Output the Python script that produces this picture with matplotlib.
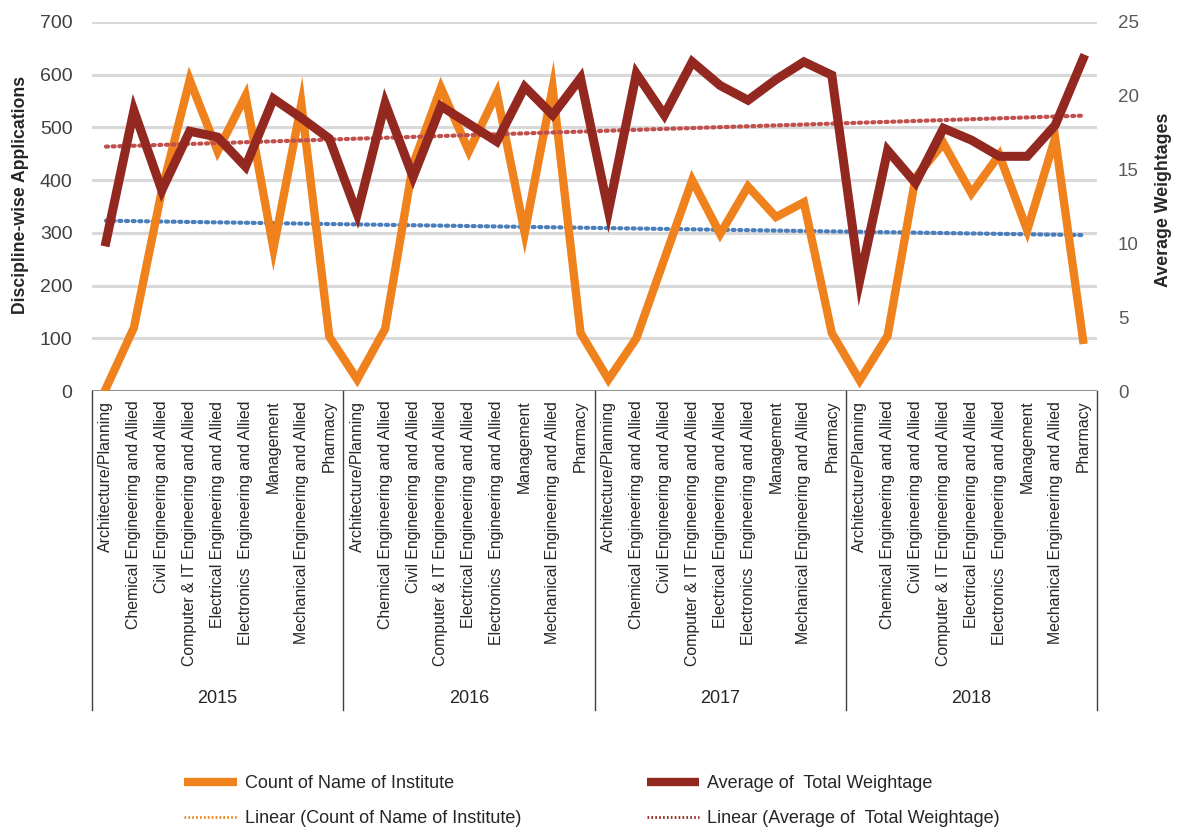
import numpy as np
import matplotlib
matplotlib.use("Agg")
import matplotlib.pyplot as plt
from matplotlib.lines import Line2D
from matplotlib import transforms

plt.rcParams['font.family'] = ['Liberation Sans', 'DejaVu Sans']

years = ['2015', '2016', '2017', '2018']
disciplines = ['Architecture/Planning', 'Chemical Engineering and Allied',
               'Civil Engineering and Allied', 'Computer & IT Engineering and Allied',
               'Electrical Engineering and Allied', 'Electronics  Engineering and Allied',
               'Management', 'Mechanical Engineering and Allied', 'Pharmacy']

# count of institutes (left axis)
count_2015 = [5, 120, 380, 590, 455, 560, 270, 545, 103]
count_2016 = [22, 118, 430, 575, 455, 565, 300, 575, 110]
count_2017 = [22, 100, 250, 400, 298, 388, 330, 358, 110]
count_2018 = [20, 105, 405, 470, 375, 448, 305, 480, 97]

# average total weightage (right axis)
weight_2015 = [10.1, 19.0, 13.6, 17.6, 17.2, 15.2, 19.8, 18.5, 17.1]
weight_2016 = [12.0, 19.5, 14.5, 19.3, 18.1, 16.9, 20.6, 18.7, 21.2]
weight_2017 = [12.2, 21.5, 18.7, 22.3, 20.7, 19.7, 21.1, 22.3, 21.4]
weight_2018 = [7.5, 16.3, 14.1, 17.8, 17.0, 15.9, 15.9, 18.0, 22.5]

counts = np.array(count_2015 + count_2016 + count_2017 + count_2018)
weights = np.array(weight_2015 + weight_2016 + weight_2017 + weight_2018)
labels = disciplines * len(years)
x = np.arange(len(counts))

ORANGE = '#F0821E'
DARKRED = '#922820'
BLUE = '#4A7EBB'
RED = '#C0504D'
GRAY = '#595959'
TEXT = '#262626'

fig = plt.figure(figsize=(11.82, 8.31), dpi=100)
ax = fig.add_axes([92 / 1182, 1 - 391 / 831, (1097 - 92) / 1182, (391 - 22) / 831])
ax2 = ax.twinx()

ax.set_ylim(0, 700)
ax.set_yticks(range(0, 701, 100))
ax2.set_ylim(0, 25)
ax2.set_yticks(range(0, 26, 5))
ax.set_xlim(-0.5, len(counts) - 0.5)

ax.grid(axis='y', color='#D9D9D9', linewidth=2.2)
ax.set_axisbelow(True)
for a in (ax, ax2):
    for s in ['left', 'right', 'top', 'bottom']:
        a.spines[s].set_visible(False)
ax.tick_params(axis='y', length=0, labelsize=14, colors='#404040', pad=14)
ax2.tick_params(axis='y', length=0, labelsize=13.5, colors=GRAY, pad=15)
ax.axhline(0, color='#7F7F7F', linewidth=1.2, zorder=1)

# trend lines
c_fit = np.polyfit(x, counts, 1)
w_fit = np.polyfit(x, weights, 1)
ax.plot(x, np.polyval(c_fit, x), color=BLUE, linestyle=(0, (0.5, 1.1)),
        linewidth=3, dash_capstyle='round', zorder=3)
ax2.plot(x, np.polyval(w_fit, x), color=RED, linestyle=(0, (0.5, 1.1)),
         linewidth=3, dash_capstyle='round', zorder=3)

ax.plot(x, counts, color=ORANGE, linewidth=6, solid_joinstyle='miter', zorder=4)
ax2.plot(x, weights, color=DARKRED, linewidth=6.5, solid_joinstyle='miter', zorder=5)

ax.set_xticks(x)
ax.set_xticklabels(labels, rotation=90, fontsize=11.4, color=TEXT)
ax.tick_params(axis='x', length=0, pad=7)

ax.set_ylabel('Discipline-wise Applications', fontsize=12.7, fontweight='bold', color=TEXT)
ax.yaxis.set_label_coords(-0.0627, 0.531)
ax2.set_ylabel('Average Weightages', fontsize=12.8, fontweight='bold', color=TEXT)
ax2.yaxis.set_label_coords(1.0577, 0.518)

# multi-level category axis: separators and year labels
trans = transforms.blended_transform_factory(ax.transData, ax.transAxes)
n = len(disciplines)
for k in range(len(years) + 1):
    xb = k * n - 0.5
    ax.plot([xb, xb], [0, -0.865], transform=trans, color='#404040',
            linewidth=1, clip_on=False)
for k, yr in enumerate(years):
    ax.text(k * n + (n - 1) / 2, -0.833, yr, transform=trans, ha='center',
            va='center', fontsize=13, color=TEXT)

handles = [
    Line2D([], [], color=ORANGE, linewidth=6, solid_capstyle='butt'),
    Line2D([], [], color=ORANGE, linewidth=2, linestyle=(0, (0.6, 0.8))),
    Line2D([], [], color=DARKRED, linewidth=6, solid_capstyle='butt'),
    Line2D([], [], color=DARKRED, linewidth=2, linestyle=(0, (0.6, 0.8))),
]
names = ['Count of Name of Institute', 'Linear (Count of Name of Institute)',
         'Average of  Total Weightage', 'Linear (Average of  Total Weightage)']
fig.legend(handles, names, ncol=2, loc='center left',
           bbox_to_anchor=(168 / 1182, 1 - 801 / 831), frameon=False,
           fontsize=13, handlelength=2.9, handletextpad=0.45, columnspacing=6.95,
           labelspacing=1.0, labelcolor=TEXT)

fig.savefig('out.png', dpi=100)
